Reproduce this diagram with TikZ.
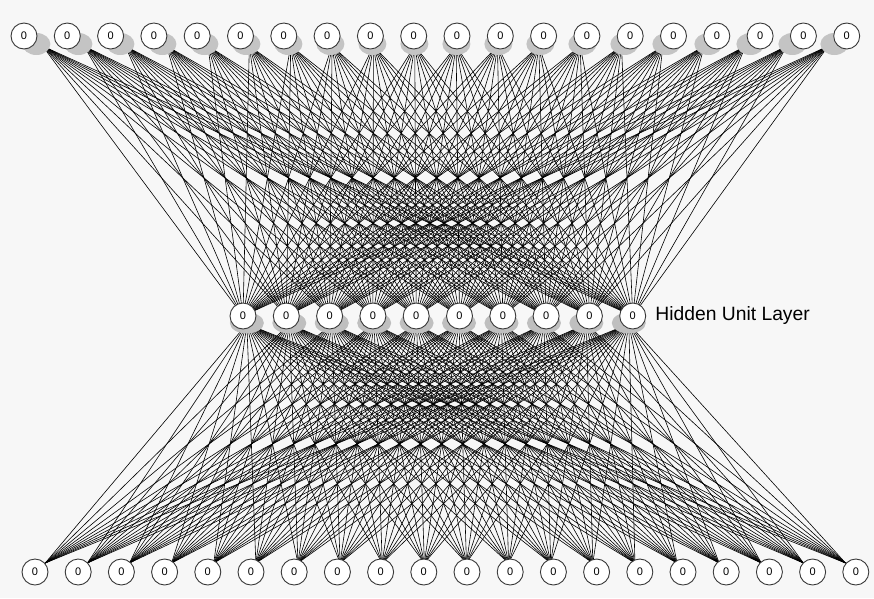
\documentclass[tikz,border=0pt]{standalone}
\usepackage{fontspec}
\setmainfont{Liberation Sans}
\usetikzlibrary{shapes.geometric}
\begin{document}
\begin{tikzpicture}[x=1pt,y=-1pt,
  unit/.style={circle,draw=black!78,fill=white,line width=0.9pt,minimum size=26pt,inner sep=0pt,font=\fontsize{11}{11}\selectfont},
  topshadow/.style={ellipse,fill=black!23,minimum width=28pt,minimum height=22pt,inner sep=0pt},
  midshadow/.style={ellipse,fill=black!25,minimum width=34pt,minimum height=21pt,inner sep=0pt},
  link/.style={line width=0.6pt,black},
  caption/.style={anchor=west,inner sep=0pt,font=\fontsize{19.3}{19.3}\selectfont}]
\useasboundingbox[fill=black!3] (0,0) rectangle (874,598);
% edge anchor coordinates
\foreach \i in {0,...,19}{
  \pgfmathsetmacro\x{24+\i*43.3}
  \pgfmathsetmacro\dx{0.045*(437-\x)}
  \coordinate (ts\i) at (\x+\dx,46);
  \pgfmathsetmacro\bx{35+\i*43.2}
  \pgfmathsetmacro\bdx{0.025*(445-\bx)}
  \coordinate (bs\i) at (\bx+\bdx,563);
}
\foreach \j in {0,...,9}{
  \pgfmathsetmacro\x{243+\j*43.3}
  \coordinate (mt\j) at (\x,316);
  \pgfmathsetmacro\dx{0.02*(437-\x)}
  \coordinate (mb\j) at (\x+\dx,324);
}
% connections
\foreach \i in {0,...,19}{
  \foreach \j in {0,...,9}{
    \draw[link] (ts\i) -- (mt\j);
    \draw[link] (mb\j) -- (bs\i);
  }
}
% shadows
\foreach \i in {0,...,19}{
  \pgfmathsetmacro\x{24+\i*43.3}
  \pgfmathsetmacro\dx{0.03*(437-\x)}
  \node[topshadow] (tsh\i) at (\x+\dx,44) {};
}
\foreach \j in {0,...,9}{
  \pgfmathsetmacro\x{243+\j*43.3}
  \pgfmathsetmacro\dx{0.02*(437-\x)}
  \node[midshadow] (msh\j) at (\x+\dx,323) {};
}
% units
\foreach \i in {0,...,19}{
  \pgfmathsetmacro\x{24+\i*43.3}
  \node[unit] (t\i) at (\x,36) {0};
  \pgfmathsetmacro\bx{35+\i*43.2}
  \node[unit] (b\i) at (\bx,572) {0};
}
\foreach \j in {0,...,9}{
  \pgfmathsetmacro\x{243+\j*43.3}
  \node[unit] (m\j) at (\x,316) {0};
}
\node[caption] (hul) at ([xshift=9pt,yshift=1pt]m9.east) {Hidden Unit Layer};
\end{tikzpicture}
\end{document}
